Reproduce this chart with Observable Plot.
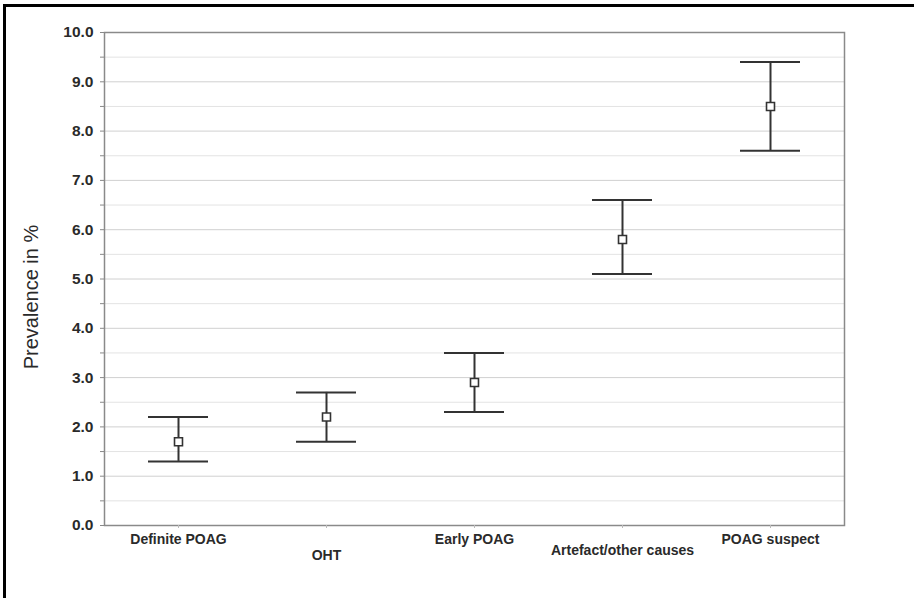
<!DOCTYPE html>
<html>
<head>
<meta charset="utf-8">
<script src="https://cdn.jsdelivr.net/npm/d3@7"></script>
<script src="https://cdn.jsdelivr.net/npm/@observablehq/plot@0.6"></script>
<style>
  html, body { margin: 0; padding: 0; background: #fff; }
  #wrap { position: relative; width: 914px; height: 598px; overflow: hidden; }
  #border { position: absolute; left: 3px; top: 4px; right: -10px; bottom: -10px; border-top: 3px solid #000; border-left: 3px solid #000; pointer-events: none; }
  #wrap svg { position: absolute; left: 0; top: 0; }
</style>
</head>
<body>
<div id="wrap"><div id="border"></div></div>
<script>
const categories = ["Definite POAG", "OHT", "Early POAG", "Artefact/other causes", "POAG suspect"];
const means = [1.7, 2.2, 2.9, 5.8, 8.5];
const lowers = [1.3, 1.7, 2.3, 5.1, 7.6];
const uppers = [2.2, 2.7, 3.5, 6.6, 9.4];
const yTicks = [0, 1, 2, 3, 4, 5, 6, 7, 8, 9, 10];
const yMinorTicks = [0.5, 1.5, 2.5, 3.5, 4.5, 5.5, 6.5, 7.5, 8.5, 9.5];
const yLabel = "Prevalence in %";

const rows = categories.map((c, i) => ({cat: c, mean: means[i], lo: lowers[i], hi: uppers[i]}));
const labelRow1 = [categories[0], categories[2], categories[4]];
const labelRow2 = [categories[1]];
const labelRow3 = [categories[3]];

const font = "'Liberation Sans', Arial, sans-serif";
const ink = "#2a2a2a";

const chart = Plot.plot({
  width: 914,
  height: 598,
  marginLeft: 104,
  marginRight: 70,
  marginTop: 32,
  marginBottom: 73,
  style: {fontFamily: font, color: ink, background: "transparent"},
  x: {domain: categories, padding: 0, label: null},
  y: {domain: [0, 10], label: null},
  marks: [
    Plot.ruleY(yMinorTicks, {stroke: "#e3e3e3", strokeWidth: 1}),
    Plot.ruleY(yTicks, {stroke: "#d0d0d0", strokeWidth: 1}),
    Plot.frame({stroke: "#8a8a8a", strokeWidth: 1.5}),
    Plot.axisY(yMinorTicks, {tickSize: 4, stroke: "#888", tickFormat: () => ""}),
    Plot.axisY(yTicks, {tickSize: 4, tickPadding: 7, stroke: "#888", tickFormat: d3.format(".1f"), fontSize: 15.5, fontWeight: "bold", fill: ink, label: null}),
    Plot.axisX(categories, {tickSize: 3, stroke: "#bbb", tickFormat: () => "", label: null}),
    Plot.axisX(labelRow1, {tickSize: 0, tickPadding: 9, fontSize: 14, fontWeight: "bold", fill: ink, label: null}),
    Plot.axisX(labelRow2, {tickSize: 0, tickPadding: 25, fontSize: 14, fontWeight: "bold", fill: ink, label: null}),
    Plot.axisX(labelRow3, {tickSize: 0, tickPadding: 20, fontSize: 14, fontWeight: "bold", fill: ink, label: null}),
    Plot.ruleX(rows, {x: "cat", y1: "lo", y2: "hi", stroke: "#333", strokeWidth: 2}),
    Plot.tickY(rows, {x: "cat", y: "lo", stroke: "#333", strokeWidth: 2, insetLeft: 44, insetRight: 44}),
    Plot.tickY(rows, {x: "cat", y: "hi", stroke: "#333", strokeWidth: 2, insetLeft: 44, insetRight: 44}),
    Plot.dot(rows, {x: "cat", y: "mean", symbol: "square", r: 4.5, fill: "white", stroke: "#333", strokeWidth: 1.6}),
    Plot.text([yLabel], {frameAnchor: "left", dx: -73, dy: 18, rotate: -90, text: d => d, fontSize: 20, fill: ink, textAnchor: "middle"})
  ]
});
document.getElementById("wrap").appendChild(chart);
</script>
</body>
</html>
